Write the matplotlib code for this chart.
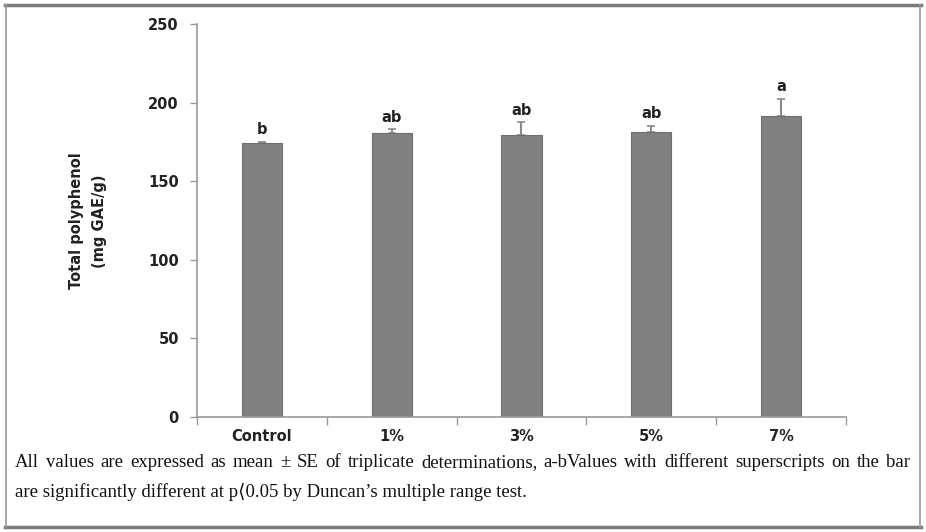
import numpy as np
import matplotlib.pyplot as plt
from matplotlib.lines import Line2D

#  data
groups = ['Control', '1%', '3%', '5%', '7%']
means = [174.0, 180.5, 179.5, 181.5, 191.5]
se = [1.0, 2.5, 8.0, 3.5, 11.0]
letters = ['b', 'ab', 'ab', 'ab', 'a']
yticks = [0, 50, 100, 150, 200, 250]

caption1 = ("All values are expressed as mean \u00b1 SE of triplicate determinations, "
            "a-bValues with different superscripts on the bar")
caption2 = "are significantly different at p\u27e80.05 by Duncan\u2019s multiple range test."
serif = ['Liberation Serif', 'DejaVu Serif', 'DejaVu Sans']

fig = plt.figure(figsize=(9.26, 5.32), dpi=100)
ax = fig.add_axes([0.2127, 0.2162, 0.7009, 0.7387])

x = np.arange(len(groups))
ax.bar(x, means, width=0.31, color='#808080', edgecolor='#6e6e6e', linewidth=0.8, zorder=2)
ax.errorbar(x, means, yerr=[np.zeros(len(se)), se], fmt='none', ecolor='#8a8a8a',
            elinewidth=1.5, capsize=3, capthick=1.2, zorder=1)

for xi, m, s, lab in zip(x, means, se, letters):
    ax.text(xi, m + s + 3, lab, ha='center', va='bottom', fontsize=10.5,
            fontweight='bold', color='#222222')

ax.set_xlim(-0.5, 4.5)
ax.set_ylim(0, 250)
ax.set_yticks(yticks)
ax.set_yticklabels([str(v) for v in yticks], fontsize=10.5, fontweight='bold', color='#222222')

# category labels at centres, tick marks at the boundaries
ax.set_xticks(np.arange(-0.5, 5, 1.0))
ax.set_xticklabels([])
ax.set_xticks(x, minor=True)
ax.set_xticklabels(groups, minor=True, fontsize=10.5, fontweight='bold', color='#222222')
ax.tick_params(axis='x', which='minor', length=0, pad=9)
ax.tick_params(axis='x', which='major', length=6, width=1, color='#999999', direction='out')
ax.tick_params(axis='y', length=5, width=1, color='#999999', pad=8)

for s in ['top', 'right']:
    ax.spines[s].set_visible(False)
for s in ['left', 'bottom']:
    ax.spines[s].set_color('#999999')
    ax.spines[s].set_linewidth(1.2)

fig.text(0.095, 0.585, 'Total polyphenol\n(mg GAE/g)', rotation=90, ha='center', va='center',
         fontsize=10.5, fontweight='bold', color='#222222', linespacing=1.6)

# caption: first line justified across the frame, second line left aligned
fig.canvas.draw()
renderer = fig.canvas.get_renderer()
words = caption1.split(' ')
x0, x1 = 15, 910
ypos = 532 - 471
items = []
total = 0
for w in words:
    t = fig.text(0, 0, w, fontsize=13.5, family=serif, va='bottom', color='#111111',
                 transform=None)
    wd = t.get_window_extent(renderer).width
    items.append((t, wd))
    total += wd
gap = (x1 - x0 - total) / (len(words) - 1)
cx = x0
for t, wd in items:
    t.set_position((cx, ypos))
    cx += wd + gap

fig.text(15 / 926, 1 - 501 / 532, caption2, fontsize=13.5, family=serif, va='bottom',
         color='#111111')

# outer frame
fig.add_artist(Line2D([0.005, 0.995], [0.991, 0.991], color='#7a7a7a', lw=2.5, transform=fig.transFigure))
fig.add_artist(Line2D([0.005, 0.995], [0.009, 0.009], color='#7a7a7a', lw=2.5, transform=fig.transFigure))
fig.add_artist(Line2D([0.006, 0.006], [0.009, 0.991], color='#9a9a9a', lw=1.2, transform=fig.transFigure))
fig.add_artist(Line2D([0.994, 0.994], [0.009, 0.991], color='#9a9a9a', lw=1.2, transform=fig.transFigure))

fig.savefig('out.png', dpi=100)
